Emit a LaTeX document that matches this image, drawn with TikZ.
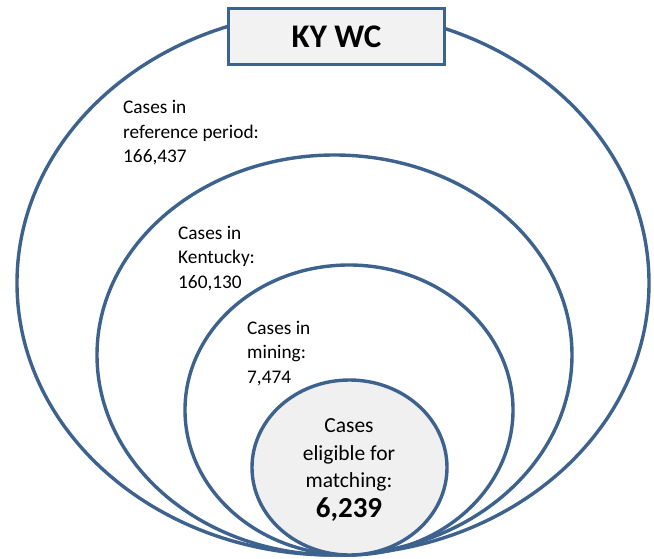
\documentclass[tikz,border=0pt]{standalone}
\usepackage{fontspec}
\setmainfont{Carlito}
\usetikzlibrary{shapes.geometric}
\definecolor{ringblue}{RGB}{62,98,142}
\definecolor{boxfill}{RGB}{242,242,242}
\definecolor{innerfill}{RGB}{240,240,240}
\tikzset{
  ring/.style={draw=ringblue, line width=3.4pt, ellipse, inner sep=0pt},
  lbl/.style={anchor=base west, inner sep=0pt, align=left, font=\fontsize{19.3}{24.5}\selectfont},
}
\begin{document}
\begin{tikzpicture}[x=1pt,y=-1pt]
\useasboundingbox (0,0) rectangle (654,559);
\fill[white] (0,0) rectangle (654,559);
% outer ellipse
\node[ring, minimum width=632pt, minimum height=544pt] (e1) at (333,283) {};
% title box
\node[draw=ringblue, line width=3.8pt, fill=boxfill, minimum width=216pt, minimum height=56pt, inner sep=0pt,
      font=\fontsize{33}{38}\selectfont\bfseries] (title) at (336.5,36.5) {KY WC};
% second ellipse
\node[ring, minimum width=475pt, minimum height=400pt] (e2) at (334.5,355) {};
% third ellipse
\node[ring, minimum width=328pt, minimum height=290pt] (e3) at (349,410) {};
% inner circle
\node[ring, fill=innerfill, minimum width=195pt, minimum height=175pt] (e4) at (349.5,467.5) {};
% labels (base anchor = baseline of last line)
\node[lbl] (t1) at (123,163) {Cases in\\reference period:\\166,437};
\node[lbl] (t2) at (178,288) {Cases in\\Kentucky:\\160,130};
\node[lbl] (t3) at (247,383) {Cases in\\mining:\\7,474};
\node[anchor=base, inner sep=0pt, align=center, font=\fontsize{21.5}{27.5}\selectfont] (t4) at (349,517)
  {Cases\\eligible for\\matching:\\[2pt]{\fontsize{29}{32}\selectfont\bfseries 6,239}};
\end{tikzpicture}
\end{document}
